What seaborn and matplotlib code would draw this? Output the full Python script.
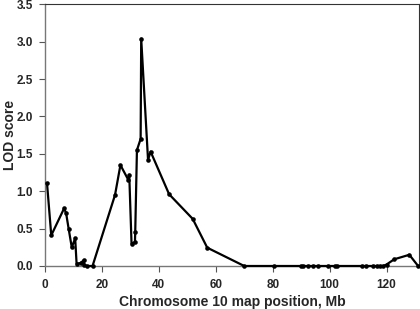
import pandas as pd
import matplotlib
matplotlib.use("Agg")
import matplotlib.pyplot as plt
import seaborn as sns

# --- Dados (posição em Mb, LOD score) ---
posicao_mb = [0.7, 2.2, 6.7, 7.4, 8.3, 9.4, 10.6, 11.1, 12.5, 13.7, 13.8, 14.6, 16.7,
              24.6, 26.5, 29.3, 29.6, 30.4, 31.6, 31.7, 32.3, 33.6, 33.8, 36.2, 37.1,
              43.6, 51.9, 57.0, 70.0, 80.4, 89.9, 90.5, 92.5, 94.3, 96.0, 99.5, 101.9,
              102.7, 111.5, 112.7, 115.3, 116.7, 117.7, 118.8, 120.0, 122.7, 128.0, 131.1]
lod_score = [1.11, 0.41, 0.77, 0.71, 0.50, 0.25, 0.37, 0.03, 0.04, 0.08, 0.01, 0.0, 0.0,
             0.95, 1.35, 1.15, 1.22, 0.30, 0.32, 0.45, 1.55, 1.70, 3.04, 1.42, 1.53,
             0.96, 0.63, 0.245, 0.0, 0.0, 0.0, 0.0, 0.0, 0.0, 0.0, 0.0, 0.0,
             0.0, 0.0, 0.0, 0.0, 0.0, 0.0, 0.0, 0.02, 0.09, 0.15, 0.0]
x_ticks = [0, 20, 40, 60, 80, 100, 120]
y_ticks = [0.0, 0.5, 1.0, 1.5, 2.0, 2.5, 3.0, 3.5]

df = pd.DataFrame({"pos": posicao_mb, "lod": lod_score})

sns.set_style("white")
plt.rcParams["font.family"] = ["Liberation Sans", "DejaVu Sans"]

fig = plt.figure(figsize=(4.2, 3.09), dpi=100)
ax = fig.add_axes([45 / 420, 1 - 266 / 309, 374 / 420, (266 - 4.3) / 309])

# linha com marcadores, na ordem dos marcadores (sem ordenar/agregar)
sns.lineplot(data=df, x="pos", y="lod", sort=False, estimator=None, ax=ax,
             color="black", linewidth=1.6, marker="o", markersize=3.3,
             markeredgewidth=0, clip_on=False, zorder=3)

ax.set_xlim(0, 131.4)
ax.set_ylim(0, 3.5)
ax.set_xticks(x_ticks)
ax.set_yticks(y_ticks)
ax.set_yticklabels([f"{v:.1f}" for v in y_ticks])
ax.tick_params(axis="both", direction="out", length=4, width=0.8, color="#555555",
               labelsize=8.5, left=True, bottom=True)
ax.tick_params(axis="x", pad=5)
ax.tick_params(axis="y", pad=4.5)
for lbl in ax.get_xticklabels() + ax.get_yticklabels():
    lbl.set_fontweight("bold")

for lado in ["top", "right"]:
    ax.spines[lado].set_color("#333333")
    ax.spines[lado].set_linewidth(0.8)
for lado in ["left", "bottom"]:
    ax.spines[lado].set_color("#777777")
    ax.spines[lado].set_linewidth(1.0)

ax.set_xlabel("Chromosome 10 map position, Mb", fontsize=10, fontweight="bold", labelpad=3)
ax.set_ylabel("LOD score", fontsize=10, fontweight="bold")
ax.yaxis.set_label_coords(-0.075, 0.5)

fig.savefig("out.png", dpi=100)
